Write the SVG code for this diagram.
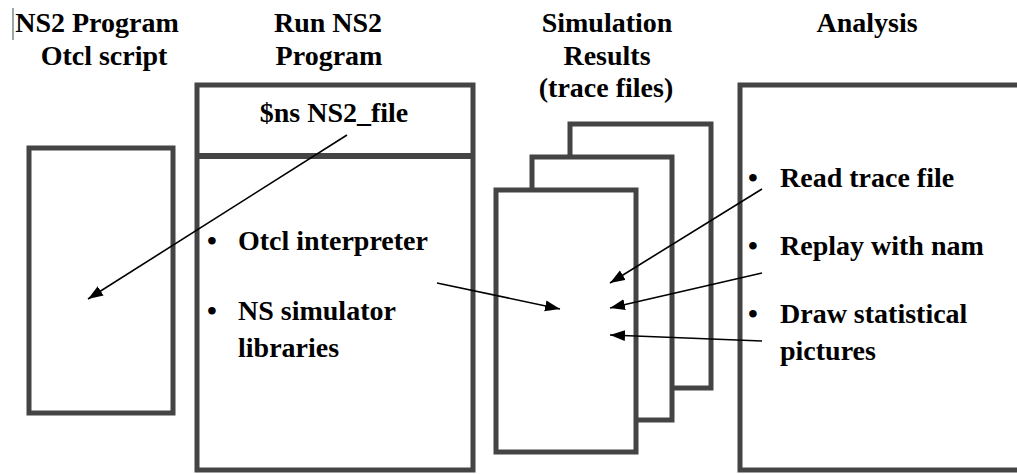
<svg xmlns="http://www.w3.org/2000/svg" width="1017" height="474" viewBox="0 0 1017 474">
<style>
.box{fill:#fff;stroke:#444;stroke-width:5}
.c{stroke:#000;stroke-width:1.6;fill:none}
</style>
<defs>
<marker id="ah" markerUnits="userSpaceOnUse" markerWidth="16" markerHeight="12" refX="15" refY="6" orient="auto">
<path d="M0,0.5 L15,6 L0,11.5 z" fill="#000"/>
</marker>
</defs>
<rect width="1017" height="474" fill="#fff"/>
<line x1="13" y1="8" x2="13" y2="40" stroke="#355" stroke-width="1"/>
<g id="titles" font-family="Liberation Serif, Times New Roman, serif" font-weight="bold" font-size="28" text-anchor="middle">
<text x="97" y="32">NS2 Program</text>
<text x="104" y="65">Otcl script</text>
<text x="328" y="32">Run NS2</text>
<text x="329" y="65">Program</text>
<text x="607" y="32">Simulation</text>
<text x="607" y="65">Results</text>
<text x="606" y="97">(trace files)</text>
<text x="867" y="32">Analysis</text>
</g>
<g id="otcl-script">
<rect class="box" x="29" y="148" width="144" height="265" stroke-width="4"/>
</g>
<g id="run-ns2">
<rect class="box" x="197" y="85" width="276" height="385"/>
<line x1="197" y1="156" x2="473" y2="156" stroke="#444" stroke-width="6"/>
<g font-family="Liberation Serif, Times New Roman, serif" font-weight="bold" font-size="28">
<text x="334" y="122" text-anchor="middle">$ns NS2_file</text>
<text x="207" y="250">•</text>
<text x="238" y="250">Otcl interpreter</text>
<text x="207" y="320">•</text>
<text x="238" y="320">NS simulator</text>
<text x="238" y="357">libraries</text>
</g>
</g>
<g id="trace-files">
<rect class="box" x="570" y="124" width="141" height="264"/>
<rect class="box" x="532" y="157" width="140" height="263"/>
<rect class="box" x="496" y="190" width="140" height="262"/>
</g>
<g id="analysis">
<rect class="box" x="740" y="85" width="300" height="385"/>
<g font-family="Liberation Serif, Times New Roman, serif" font-weight="bold" font-size="28">
<text x="748" y="187">•</text>
<text x="780" y="187">Read trace file</text>
<text x="748" y="255">•</text>
<text x="780" y="255">Replay with nam</text>
<text x="748" y="323">•</text>
<text x="780" y="323">Draw statistical</text>
<text x="780" y="360">pictures</text>
</g>
</g>
<g id="connectors">
<line class="c" x1="347" y1="135" x2="88" y2="299" marker-end="url(#ah)"/>
<line class="c" x1="437" y1="283" x2="560" y2="309" marker-end="url(#ah)"/>
<line class="c" x1="762" y1="189" x2="610" y2="283" marker-end="url(#ah)"/>
<line class="c" x1="762" y1="273" x2="610" y2="308" marker-end="url(#ah)"/>
<line class="c" x1="762" y1="341" x2="610" y2="335" marker-end="url(#ah)"/>
</g>
</svg>
